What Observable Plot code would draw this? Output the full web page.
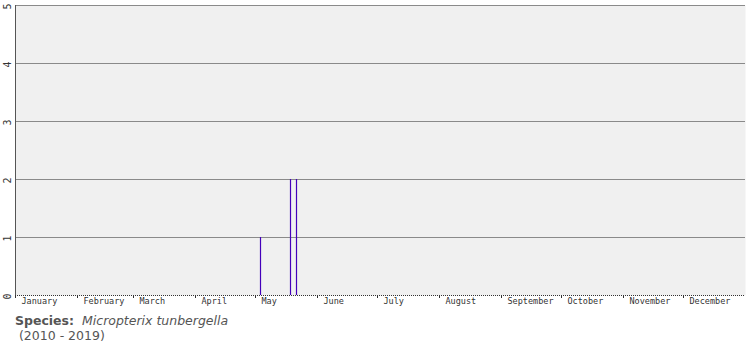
<!DOCTYPE html>
<html>
<head>
<meta charset="utf-8">
<script src="https://cdn.jsdelivr.net/npm/d3@7"></script>
<script src="https://cdn.jsdelivr.net/npm/@observablehq/plot@0.6"></script>
<style>
  body { margin: 0; background: #fff; }
  #caption { font-family: "DejaVu Sans", Verdana, sans-serif; font-size: 12.5px; color: #555; padding-left: 15px; line-height: 15px; padding-top: 3px; }
  #caption b { color: #555; }
</style>
</head>
<body>
<div id="chart"></div>
<div id="caption"><b>Species:</b>&nbsp; <i>Micropterix tunbergella</i><br>&nbsp;(2010 - 2019)</div>
<script>
// Observation records: day of year and count
const days = [123, 138, 141];
const counts = [1, 2, 2];

const monthNames = ["January","February","March","April","May","June","July","August","September","October","November","December"];
const monthStartDays = [1, 32, 60, 91, 121, 152, 182, 213, 244, 274, 305, 335];
const yTicks = [0, 1, 2, 3, 4, 5];

const obs = days.map((d, i) => ({day: d, count: counts[i]}));
const months = monthNames.map((m, i) => ({name: m, start: monthStartDays[i]}));

const chart = Plot.plot({
  width: 755,
  height: 310,
  marginLeft: 15,
  marginRight: 10,
  marginTop: 5,
  marginBottom: 15,
  style: {background: "#fff", fontFamily: "'DejaVu Sans Mono', monospace", fontSize: "8.5px", color: "#333"},
  x: {domain: [1, 366], axis: null},
  y: {domain: [0, 5], axis: null},
  marks: [
    Plot.frame({fill: "#f0f0f0", stroke: null}),
    Plot.ruleY(yTicks.filter(d => d > 0), {stroke: "#8a8a8a", strokeWidth: 1}),
    Plot.ruleX([1], {stroke: "#555", strokeWidth: 1}),
    Plot.ruleY([0], {stroke: "#333", strokeDasharray: "1,1", strokeWidth: 1}),
    Plot.axisX(monthStartDays, {tickSize: 3, tickFormat: () => "", stroke: "#333"}),
    Plot.text(months, {x: d => d.start + 3, text: "name", frameAnchor: "bottom", lineAnchor: "top", dy: 2, textAnchor: "start", fill: "#333"}),
    Plot.text(yTicks, {y: d => d, text: d => String(d), frameAnchor: "left", dx: -8, dy: 4, rotate: -90, fill: "#333", fontSize: 10})
,
    Plot.ruleX(obs, {x: d => d.day + 0.5, y1: 0, y2: "count", stroke: "#4400bb", strokeWidth: 1.2})
  ]
});
document.getElementById("chart").appendChild(chart);
</script>
</body>
</html>
